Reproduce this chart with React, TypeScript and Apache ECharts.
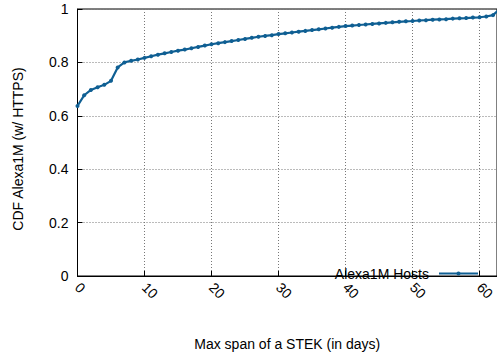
import React, { useEffect, useRef } from "react";
import * as echarts from "echarts";

const days = [
  0, 1, 2, 3, 4, 5, 6, 7, 8, 9, 10, 11, 12, 13, 14, 15, 16, 17, 18, 19, 20,
  21, 22, 23, 24, 25, 26, 27, 28, 29, 30, 31, 32, 33, 34, 35, 36, 37, 38, 39, 40,
  41, 42, 43, 44, 45, 46, 47, 48, 49, 50, 51, 52, 53, 54, 55, 56, 57, 58, 59, 60,
  61, 62, 63,
];
const cdf = [
  0.637, 0.677, 0.697, 0.707, 0.716, 0.731, 0.781, 0.8, 0.806, 0.811, 0.817,
  0.823, 0.829, 0.834, 0.839, 0.844, 0.848, 0.853, 0.858, 0.863, 0.868,
  0.872, 0.876, 0.88, 0.884, 0.888, 0.892, 0.896, 0.899, 0.902, 0.906,
  0.909, 0.912, 0.915, 0.918, 0.921, 0.924, 0.927, 0.93, 0.933, 0.936,
  0.938, 0.94, 0.942, 0.944, 0.946, 0.948, 0.95, 0.952, 0.954, 0.955,
  0.957, 0.958, 0.96, 0.961, 0.962, 0.964, 0.965, 0.966, 0.968, 0.969,
  0.972, 0.977, 1.0,
];
const seriesName = "Alexa1M Hosts";
const xTitle = "Max span of a STEK (in days)";
const yTitle = "CDF Alexa1M (w/ HTTPS)";

export default function App() {
  const ref = useRef<HTMLDivElement>(null);
  useEffect(() => {
    if (!ref.current) return;
    const chart = echarts.init(ref.current, undefined, { renderer: "svg" });
    const font = "Liberation Sans, Arial, Helvetica, sans-serif";
    const color = "#0f5f93";
    chart.setOption({
      animation: false,
      textStyle: { fontFamily: font },
      grid: {
        left: 77.5,
        right: 0,
        top: 9,
        bottom: 82,
        show: true,
        borderColor: "#000",
        borderWidth: 1,
        containLabel: false,
        outerBoundsMode: "none",
      },
      legend: {
        right: 13,
        top: 261.5,
        align: "right",
        itemWidth: 39,
        itemHeight: 5,
        data: [seriesName],
        lineStyle: { width: 2 },
        textStyle: { fontFamily: font, fontSize: 14, color: "#000", padding: [0, 5, 0, 0] },
      },
      xAxis: {
        type: "value",
        min: 0,
        max: 62.6,
        interval: 10,
        name: xTitle,
        nameLocation: "middle",
        nameGap: 61,
        nameTextStyle: { fontFamily: font, fontSize: 14, color: "#000" },
        axisLine: { show: true, lineStyle: { color: "#000", width: 1 } },
        axisTick: { show: true, inside: true, length: 5, lineStyle: { color: "#000" } },
        axisLabel: {
          rotate: -45,
          margin: 9,
          fontFamily: font,
          fontSize: 14,
          color: "#000",
          showMaxLabel: false,
        },
        splitLine: { show: true, lineStyle: { color: "#777", type: [1, 2], width: 1 } },
      },
      yAxis: {
        type: "value",
        min: 0,
        max: 1,
        interval: 0.2,
        name: yTitle,
        nameLocation: "middle",
        nameGap: 53,
        nameTextStyle: { fontFamily: font, fontSize: 14, color: "#000", padding: [0, 13, 0, 0] },
        axisLine: { show: true, lineStyle: { color: "#000", width: 1 } },
        axisTick: { show: true, inside: true, length: 5, lineStyle: { color: "#000" } },
        axisLabel: { margin: 9, fontFamily: font, fontSize: 14, color: "#000" },
        splitLine: { show: true, lineStyle: { color: "#777", type: [1, 2], width: 1 } },
      },
      series: [
        {
          name: seriesName,
          type: "line",
          data: days.map((d, i) => [d, cdf[i]]),
          showSymbol: true,
          symbol: "circle",
          symbolSize: 4,
          clip: true,
          lineStyle: { color, width: 2.2 },
          itemStyle: { color },
        },
      ],
    });
    return () => chart.dispose();
  }, []);
  return (
    <div
      ref={ref}
      style={{ position: "absolute", left: 0, top: 0, width: 497, height: 358, background: "#fff" }}
    />
  );
}
